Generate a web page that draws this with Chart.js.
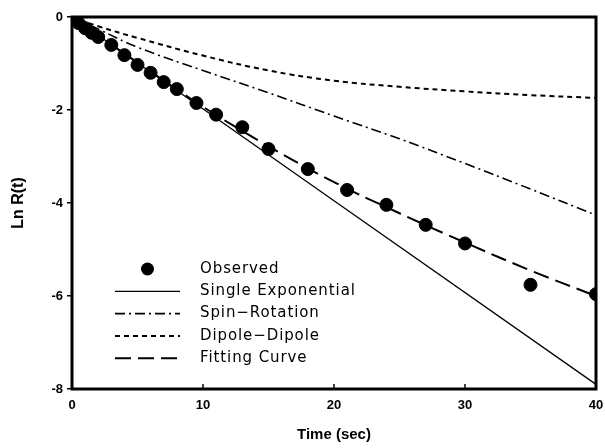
<!DOCTYPE html>
<html>
<head>
<meta charset="utf-8">
<script src="https://cdn.jsdelivr.net/npm/chart.js@4"></script>
<style>
  html, body { margin: 0; padding: 0; background: #fff; }
  #wrap { width: 605px; height: 448px; }
</style>
</head>
<body>
<div id="wrap"><canvas id="lnChart" width="605" height="448"></canvas></div>
<script>
// values
const obsTime = [0.5, 1, 1.5, 2, 3, 4, 5, 6, 7, 8, 9.5, 11, 13, 15, 18, 21, 24, 27, 30, 35, 40];
const obsLnR  = [-0.13, -0.24, -0.34, -0.43, -0.6, -0.82, -1.03, -1.2, -1.4, -1.55, -1.85, -2.1, -2.37, -2.84, -3.27, -3.72, -4.04, -4.47, -4.87, -5.76, -5.96];

const singleTime = [0, 40];
const singleLnR  = [0, -7.9];

const curveTime = [0, 2, 5, 10, 15, 20, 25, 30, 35, 40];
const spinLnR    = [0, -0.26, -0.65, -1.15, -1.63, -2.13, -2.62, -3.15, -3.7, -4.26];
const dipoleLnR  = [0, -0.2, -0.45, -0.83, -1.15, -1.37, -1.5, -1.6, -1.68, -1.74];
const fittingLnR = [0, -0.4, -0.98, -1.93, -2.78, -3.55, -4.22, -4.85, -5.45, -6.0];

const xTicks = [0, 10, 20, 30, 40];
const yTicks = [0, -2, -4, -6, -8];

const legendNames = ['Observed', 'Single Exponential', 'Spin\u2212Rotation', 'Dipole\u2212Dipole', 'Fitting Curve'];

function pts(xs, ys) {
  return xs.map((x, i) => ({ x: x, y: ys[i] }));
}

function lineSet(label, xs, ys, dash, width) {
  return {
    label: label,
    data: pts(xs, ys),
    showLine: true,
    borderColor: '#000',
    borderWidth: width,
    borderDash: dash,
    pointRadius: 0,
    fill: false,
    tension: 0.4
  };
}

// frame, inward x ticks and the legend inside the plot
const framePlugin = {
  id: 'frame',
  afterDraw(chart) {
    const ctx = chart.ctx;
    const a = chart.chartArea;
    const xs = chart.scales.x;
    ctx.save();
    ctx.strokeStyle = '#000';
    ctx.lineWidth = 3;
    ctx.strokeRect(a.left, a.top, a.right - a.left, a.bottom - a.top);
    ctx.lineWidth = 1.5;
    xTicks.slice(1, -1).forEach(t => {
      const px = xs.getPixelForValue(t);
      ctx.beginPath();
      ctx.moveTo(px, a.bottom);
      ctx.lineTo(px, a.bottom - 5);
      ctx.stroke();
    });

    // legend
    const x0 = 115, x1 = 180, tx = 200;
    let y = 269;
    ctx.font = '15px "DejaVu Sans"';
    ctx.letterSpacing = '0.9px';
    ctx.fillStyle = '#000';
    ctx.textBaseline = 'middle';
    chart.data.datasets.forEach((ds, i) => {
      if (ds.showLine) {
        ctx.setLineDash(ds.borderDash || []);
        ctx.lineWidth = ds.borderWidth;
        ctx.beginPath();
        ctx.moveTo(x0, y);
        ctx.lineTo(x1, y);
        ctx.stroke();
        ctx.setLineDash([]);
      } else {
        ctx.beginPath();
        ctx.arc((x0 + x1) / 2, y, ds.pointRadius, 0, Math.PI * 2);
        ctx.fill();
      }
      ctx.fillText(legendNames[i], tx, y);
      y += 22.3;
    });
    ctx.restore();
  }
};

const ctx = document.getElementById('lnChart').getContext('2d');
new Chart(ctx, {
  type: 'scatter',
  data: {
    datasets: [
      {
        label: legendNames[0],
        data: pts(obsTime, obsLnR),
        backgroundColor: '#000',
        borderColor: '#000',
        pointRadius: 6.5,
        pointHoverRadius: 6.5,
        showLine: false,
        clip: 0
      },
      lineSet(legendNames[1], singleTime, singleLnR, [], 1.3),
      lineSet(legendNames[2], curveTime, spinLnR, [10, 4, 2, 4], 1.6),
      lineSet(legendNames[3], curveTime, dipoleLnR, [5, 4], 2),
      lineSet(legendNames[4], curveTime, fittingLnR, [16, 7], 2)
    ]
  },
  options: {
    responsive: false,
    animation: false,
    layout: { padding: { top: 17, right: 9, left: 0, bottom: 0 } },
    plugins: {
      legend: { display: false },
      tooltip: { enabled: false }
    },
    scales: {
      x: {
        type: 'linear',
        min: 0,
        max: 40,
        afterBuildTicks: s => { s.ticks = xTicks.map(v => ({ value: v })); },
        afterFit: s => { s.height = 59; s.paddingLeft = 0; s.paddingRight = 0; },
        grid: { display: false, drawTicks: false },
        border: { display: false },
        ticks: {
          color: '#000',
          padding: 9,
          font: { family: '"Liberation Sans", Arial', size: 13, weight: 'bold' }
        },
        title: {
          display: true,
          text: 'Time (sec)',
          color: '#000',
          padding: { top: 10 },
          font: { family: '"Liberation Sans", Arial', size: 15, weight: 'bold' }
        }
      },
      y: {
        type: 'linear',
        min: -8,
        max: 0,
        afterBuildTicks: s => { s.ticks = yTicks.map(v => ({ value: v })); },
        afterFit: s => { s.width = 72; s.paddingTop = 0; s.paddingBottom = 0; },
        grid: { drawOnChartArea: false, drawTicks: true, tickLength: 5, color: '#000', lineWidth: 1.5 },
        border: { display: false },
        ticks: {
          color: '#000',
          padding: 4,
          font: { family: '"Liberation Sans", Arial', size: 13, weight: 'bold' }
        },
        title: {
          display: true,
          text: 'Ln R(t)',
          color: '#000',
          padding: { top: 9, bottom: 0 },
          font: { family: '"Liberation Sans", Arial', size: 16, weight: 'bold' }
        }
      }
    }
  },
  plugins: [framePlugin]
});
</script>
</body>
</html>
